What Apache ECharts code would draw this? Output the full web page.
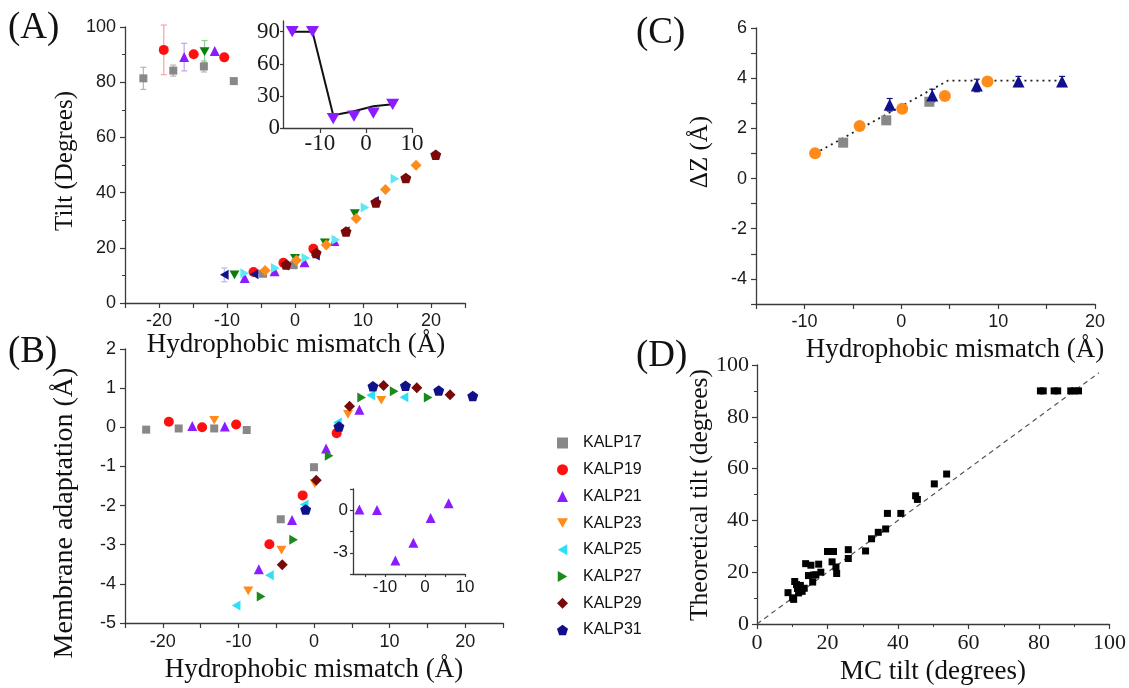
<!DOCTYPE html>
<html>
<head>
<meta charset="utf-8">
<script src="https://cdn.jsdelivr.net/npm/echarts@6/dist/echarts.min.js"></script>
<style>
  html, body { margin: 0; padding: 0; background: #fff; }
  #chart { width: 1129px; height: 688px; }
</style>
</head>
<body>
<div id="chart"></div>
<script>
const SERIF = '"Liberation Serif", "Times New Roman", serif'
const SANS = '"Liberation Sans", Arial, sans-serif'

// (A) tilt vs hydrophobic mismatch
const aKalp17 = [[-22.3, 81.4], [-17.9, 84.2], [-13.4, 85.7], [-9.0, 80.4], [-4.7, 10.6], [-0.2, 13.7]]
const aKalp19 = [[-19.3, 91.7], [-14.9, 90.1], [-10.4, 89.0], [-6.1, 11.2], [-1.7, 14.6], [2.7, 19.7]]
const aKalp21 = [[-16.3, 89.1], [-11.8, 91.3], [-7.4, 9.1], [-3.0, 11.5], [1.4, 14.8], [5.8, 22.5]]
const aKalp23 = [[-13.3, 91.1], [-8.9, 10.2], [0.0, 16.2], [4.4, 21.8], [8.8, 32.4]]
const aKalp25 = [[-10.4, 10.2], [-6.0, 10.4], [-1.5, 13.6], [3.0, 17.2], [7.4, 26.0], [11.7, 37.0]]
const aKalp27 = [[-7.4, 10.8], [-2.9, 12.7], [1.6, 16.3], [6.0, 22.9], [10.3, 34.6], [14.7, 45.0]]
const aKalp29 = [[-4.4, 11.8], [0.2, 15.5], [4.6, 21.0], [9.0, 30.6], [13.3, 41.1], [17.8, 49.9]]
const aKalp31 = [[-1.3, 13.9], [3.1, 18.1], [7.5, 25.9], [11.9, 36.4], [16.3, 45.3], [20.7, 53.7]]
// [x, y, +/- error]
const aErr17 = [[-22.3, 81.4, 4], [-17.9, 84.2, 2], [-13.4, 85.7, 2]]
const aErr19 = [[-19.3, 91.7, 9]]
const aErr21 = [[-16.3, 89.1, 5]]
const aErr23 = [[-13.3, 91.1, 4]]
const aErr25 = [[-10.4, 10.2, 2.5]]

// (A) inset
const aInsetPts = [[-16.0, 90], [-11.6, 90], [-7.1, 8.8], [-2.6, 11], [1.6, 14], [5.8, 22]]
const aInsetFit = [[-16.0, 90], [-11.6, 90], [-7.1, 12], [-2.6, 15.6], [1.6, 20.3], [5.8, 22.2]]

// (B) membrane adaptation
const bKalp17 = [[-22.2, -0.06], [-17.9, -0.03], [-13.2, -0.03], [-8.9, -0.07], [-4.4, -2.35], [0.0, -1.02]]
const bKalp19 = [[-19.2, 0.14], [-14.8, 0.0], [-10.3, 0.07], [-5.9, -2.99], [-1.5, -1.74], [3.0, -0.15]]
const bKalp21 = [[-16.1, 0.03], [-11.8, 0.02], [-7.3, -3.63], [-2.9, -2.37], [1.6, -0.54], [6.0, 0.45]]
const bKalp23 = [[-13.2, 0.18], [-8.7, -4.18], [-4.3, -3.14], [0.1, -1.44], [4.5, 0.33], [8.9, 0.69]]
const bKalp25 = [[-10.3, -4.55], [-5.9, -3.78], [-1.3, -1.97], [3.1, 0.12], [7.5, 0.82], [11.9, 0.77]]
const bKalp27 = [[-7.0, -4.32], [-2.7, -2.87], [2.0, -0.73], [6.3, 0.76], [10.6, 0.92], [15.1, 0.76]]
const bKalp29 = [[-4.2, -3.51], [0.3, -1.35], [4.7, 0.54], [9.2, 1.07], [13.6, 1.01], [18.0, 0.83]]
const bKalp31 = [[-1.1, -2.10], [3.3, 0.02], [7.8, 1.05], [12.1, 1.06], [16.5, 0.94], [21.0, 0.80]]
// (B) inset
const bInsetPts = [[-16.4, 0.05], [-12.0, 0.02], [-7.4, -3.55], [-2.9, -2.3], [1.4, -0.54], [5.9, 0.49]]

// (C) delta Z
const cGray = [[-6.0, 1.43], [-1.55, 2.32], [2.9, 3.06]]
const cOrange = [[-8.9, 1.01], [-4.3, 2.09], [0.1, 2.78], [4.5, 3.29], [8.9, 3.87]]
const cBlue = [[-1.2, 2.94], [3.2, 3.31], [7.8, 3.71], [12.1, 3.87], [16.6, 3.87]]
const cBlueErr = [[-1.2, 2.94, 0.25], [3.2, 3.31, 0.25], [7.8, 3.71, 0.25], [12.1, 3.87, 0.2], [16.6, 3.87, 0.2]]
const cFit = [[-8.9, 1.0], [4.8, 3.9], [16.7, 3.9]]

// (D) theoretical vs MC tilt
const dPoints = [
  [8.8, 12.1], [10.1, 10.1], [10.4, 9.5], [10.7, 16.4], [11.2, 15.2], [11.5, 13.7], [11.8, 12.0],
  [12.3, 14.9], [12.8, 12.6], [13.4, 13.8], [13.8, 23.3], [14.6, 18.7], [15.3, 22.7], [15.8, 16.2],
  [16.0, 18.9], [16.7, 19.0], [17.5, 23.1], [18.1, 20.0], [20.0, 28.0], [21.3, 24.0], [21.7, 28.0],
  [22.4, 22.0], [22.6, 19.5], [25.9, 28.7], [25.9, 25.3], [30.8, 28.2], [32.5, 32.9], [34.4, 35.4],
  [36.5, 36.7], [37.0, 42.7], [40.8, 42.7], [45.0, 49.5], [45.5, 48.1], [50.3, 54.1], [53.8, 57.9],
  [80.4, 90], [81.2, 90], [84.3, 90], [85.3, 90], [89.0, 90], [90.0, 90], [91.2, 90]
]
const dDiag = [[0, 0], [97, 97]]

const names = ['KALP17', 'KALP19', 'KALP21', 'KALP23', 'KALP25', 'KALP27', 'KALP29', 'KALP31']

const PENTAGON = 'path://M0,-10L9.51,-3.09L5.88,8.09L-5.88,8.09L-9.51,-3.09Z'
const TRI_DOWN = 'path://M0,0L20,0L10,17.3Z'
const TRI_LEFT = 'path://M17.3,0L17.3,20L0,10Z'
const TRI_RIGHT = 'path://M0,0L0,20L17.3,10Z'
const AXIS_COLOR = '#3a3a3a'

const chart = echarts.init(document.getElementById('chart'))

function axis (opts) {
  const { label = {}, tick = {}, ...rest } = opts
  return {
    type: 'value',
    axisLine: { show: true, onZero: false, lineStyle: { color: AXIS_COLOR, width: 1.3 } },
    axisTick: Object.assign({ show: true, length: 5, lineStyle: { color: AXIS_COLOR, width: 1.2 } }, tick),
    splitLine: { show: false },
    axisLabel: Object.assign({ color: '#1a1a1a', fontFamily: SANS, fontSize: 18, margin: 9 }, label),
    ...rest
  }
}

const minor = { show: true, splitNumber: 2, length: 3, lineStyle: { color: AXIS_COLOR, width: 1 } }
const tens = v => (v % 10 === 0 ? v : '')

function scatter (name, data, idx, symbol, color, size) {
  return {
    name, type: 'scatter', data, xAxisIndex: idx, yAxisIndex: idx,
    symbol, symbolSize: size, symbolKeepAspect: true,
    itemStyle: { color, opacity: 1 }, z: 3
  }
}

function errBars (data, idx, color) {
  return {
    type: 'custom', xAxisIndex: idx, yAxisIndex: idx, data, z: 2, silent: true,
    encode: { x: 0, y: 1 },
    renderItem: (params, api) => {
      const x = api.value(0)
      const y = api.value(1)
      const e = api.value(2)
      const hi = api.coord([x, y + e])
      const lo = api.coord([x, y - e])
      const style = { stroke: color, lineWidth: 1.2 }
      return {
        type: 'group',
        children: [
          { type: 'line', shape: { x1: hi[0], y1: hi[1], x2: lo[0], y2: lo[1] }, style },
          { type: 'line', shape: { x1: hi[0] - 3, y1: hi[1], x2: hi[0] + 3, y2: hi[1] }, style },
          { type: 'line', shape: { x1: lo[0] - 3, y1: lo[1], x2: lo[0] + 3, y2: lo[1] }, style }
        ]
      }
    }
  }
}

function text (t, x, y, size, rotated, align) {
  return {
    type: 'text', x, y, rotation: rotated ? Math.PI / 2 : 0, z: 10,
    style: {
      text: t, fill: '#111', align: align || 'center', verticalAlign: 'middle',
      font: size + 'px ' + SERIF
    }
  }
}

const option = {
  backgroundColor: '#fff',
  animation: false,
  grid: [
    { left: 125, top: 27, width: 340, height: 276 },     // A
    { left: 283, top: 21, width: 129, height: 107 },     // A inset
    { left: 125, top: 349, width: 378, height: 274 },    // B
    { left: 353, top: 489, width: 112, height: 85 },     // B inset
    { left: 756, top: 28, width: 339, height: 276 },     // C
    { left: 757, top: 365, width: 353, height: 259 }     // D
  ],
  xAxis: [
    axis({ gridIndex: 0, min: -25, max: 25, interval: 5, label: { formatter: tens } }),
    axis({
      gridIndex: 1, min: -18, max: 10,
      label: { customValues: [-10, 0, 10], fontFamily: SERIF, fontSize: 23, margin: 4 },
      tick: { customValues: [-10, 0, 10] }
    }),
    axis({ gridIndex: 2, min: -25, max: 25, interval: 5, label: { formatter: tens, margin: 10 } }),
    axis({
      gridIndex: 3, min: -18, max: 10,
      label: { customValues: [-10, 0, 10], fontSize: 17, margin: 5 },
      tick: { customValues: [-15, -10, -5, 0, 5, 10], length: 3 }
    }),
    axis({ gridIndex: 4, min: -15, max: 20, interval: 5, label: { formatter: tens } }),
    axis({
      gridIndex: 5, min: 0, max: 100, interval: 20, minorTick: minor,
      label: { fontFamily: SERIF, fontSize: 22, margin: 8 }
    })
  ],
  yAxis: [
    axis({ gridIndex: 0, min: 0, max: 100, interval: 20, minorTick: minor }),
    axis({
      gridIndex: 1, min: 0, max: 100,
      label: { customValues: [0, 30, 60, 90], fontFamily: SERIF, fontSize: 23, margin: 3 },
      tick: { customValues: [0, 30, 60, 90], length: 3 }
    }),
    axis({ gridIndex: 2, min: -5, max: 2, interval: 1 }),
    axis({
      gridIndex: 3, min: -4.5, max: 1.5,
      label: { customValues: [-3, 0], fontSize: 17, margin: 5 },
      tick: { customValues: [-4.5, -3, -1.5, 0, 1.5], length: 3 }
    }),
    axis({
      gridIndex: 4, min: -5, max: 6,
      label: { customValues: [-4, -2, 0, 2, 4, 6] },
      tick: { customValues: [-5, -4, -3, -2, -1, 0, 1, 2, 3, 4, 5, 6] }
    }),
    axis({
      gridIndex: 5, min: 0, max: 100, interval: 20, minorTick: minor,
      label: { fontFamily: SERIF, fontSize: 22, margin: 8 }
    })
  ],
  legend: {
    data: names,
    orient: 'vertical',
    left: 552,
    top: 429,
    itemWidth: 11,
    itemHeight: 11,
    itemGap: 8.7,
    textStyle: { fontFamily: SANS, fontSize: 16, color: '#111', lineHeight: 18, padding: [0, 0, 0, 10] }
  },
  series: [
    // A error bars
    errBars(aErr17, 0, '#b5b5b5'),
    errBars(aErr19, 0, '#f5a3a8'),
    errBars(aErr21, 0, '#c49ff5'),
    errBars(aErr23, 0, '#8fd08f'),
    errBars(aErr25, 0, '#b7b7ee'),
    // A markers
    scatter('A17', aKalp17, 0, 'rect', '#888888', 8),
    scatter('A19', aKalp19, 0, 'circle', '#ff1010', 10),
    scatter('A21', aKalp21, 0, 'triangle', '#8a1cff', 10),
    scatter('A23', aKalp23, 0, TRI_DOWN, '#0a7d0a', 10),
    scatter('A25', aKalp25, 0, TRI_LEFT, '#10108a', 10),
    scatter('A27', aKalp27, 0, TRI_RIGHT, '#5ce8f5', 10),
    scatter('A29', aKalp29, 0, 'diamond', '#ff8c1a', 11),
    scatter('A31', aKalp31, 0, PENTAGON, '#7a0a0a', 11),
    // A inset
    {
      type: 'line', data: aInsetFit, xAxisIndex: 1, yAxisIndex: 1, showSymbol: false,
      lineStyle: { color: '#111', width: 2 }, z: 2
    },
    scatter('Ai', aInsetPts, 1, TRI_DOWN, '#8a1cff', 13),
    // B markers
    scatter('KALP17', bKalp17, 2, 'rect', '#888888', 8),
    scatter('KALP19', bKalp19, 2, 'circle', '#ff1010', 10),
    scatter('KALP21', bKalp21, 2, 'triangle', '#8a1cff', 10),
    scatter('KALP23', bKalp23, 2, TRI_DOWN, '#ff8c1a', 10),
    scatter('KALP25', bKalp25, 2, TRI_LEFT, '#2ee0f5', 10),
    scatter('KALP27', bKalp27, 2, TRI_RIGHT, '#1a8a1a', 10),
    scatter('KALP29', bKalp29, 2, 'diamond', '#7a0a0a', 11),
    scatter('KALP31', bKalp31, 2, PENTAGON, '#10108a', 11),
    // B inset
    scatter('Bi', bInsetPts, 3, 'triangle', '#8a1cff', 10),
    // C
    {
      type: 'line', data: cFit, xAxisIndex: 4, yAxisIndex: 4, showSymbol: false,
      lineStyle: { color: '#222', width: 1.8, type: [2, 4] }, z: 2
    },
    errBars(cBlueErr, 4, '#10108a'),
    scatter('Cg', cGray, 4, 'rect', '#888888', 10),
    scatter('Co', cOrange, 4, 'circle', '#ff8c1a', 12),
    scatter('Cb', cBlue, 4, 'triangle', '#10108a', 12),
    // D
    {
      type: 'line', data: dDiag, xAxisIndex: 5, yAxisIndex: 5, showSymbol: false,
      lineStyle: { color: '#555', width: 1.2, type: [5, 4] }, z: 2
    },
    scatter('D', dPoints, 5, 'rect', '#000', 7)
  ],
  graphic: [
    text('(A)', 8, 28, 37, false, 'left'),
    text('(B)', 8, 352, 37, false, 'left'),
    text('(C)', 636, 33, 37, false, 'left'),
    text('(D)', 636, 356, 37, false, 'left'),
    text('Hydrophobic mismatch (Å)', 296, 345, 27),
    text('Hydrophobic mismatch (Å)', 314, 670, 27),
    text('Hydrophobic mismatch (Å)', 955, 350, 27),
    text('MC tilt (degrees)', 933, 672, 27),
    text('Tilt (Degrees)', 65, 161, 25, true),
    text('Membrane adaptation (Å)', 65, 513, 28, true),
    text('ΔZ (Å)', 700, 152, 25, true),
    text('Theoretical tilt (degrees)', 700, 495, 25.5, true)
  ]
}

chart.setOption(option)
</script>
</body>
</html>
